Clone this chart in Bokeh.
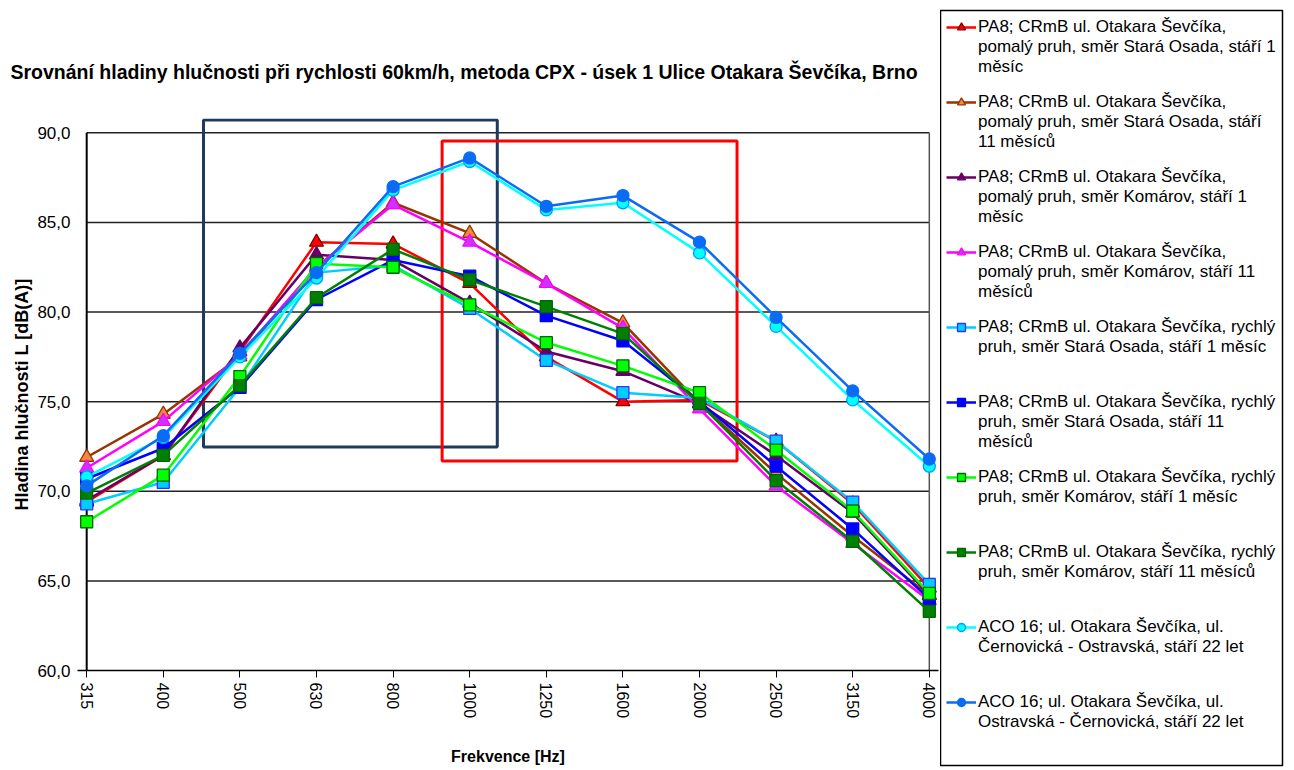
from bokeh.plotting import figure
from bokeh.layouts import row
from bokeh.models import Range1d, FixedTicker, Legend, LegendItem
from bokeh.embed import file_html
from bokeh.resources import INLINE

# ---------------- data ----------------
freqs = ["315", "400", "500", "630", "800", "1000", "1250", "1600", "2000", "2500", "3150", "4000"]

pa8_pomaly_stara_1m = [69.4, 72.0, 77.8, 83.9, 83.8, 81.6, 77.5, 75.0, 75.1, 72.8, 69.3, 64.6]
pa8_pomaly_stara_11m = [71.9, 74.3, 77.5, 82.5, 86.1, 84.4, 81.6, 79.4, 74.9, 71.0, 67.5, 64.2]
pa8_pomaly_komarov_1m = [69.5, 72.0, 78.0, 83.2, 82.9, 80.5, 77.8, 76.7, 74.9, 72.0, 68.8, 64.2]
pa8_pomaly_komarov_11m = [71.3, 73.9, 77.6, 82.5, 86.0, 83.9, 81.6, 79.1, 74.6, 70.3, 67.1, 63.9]
pa8_rychly_stara_1m = [69.3, 70.5, 75.8, 82.2, 82.6, 80.2, 77.3, 75.5, 75.2, 72.8, 69.4, 64.8]
pa8_rychly_stara_11m = [70.7, 72.4, 75.8, 80.7, 82.9, 82.0, 79.8, 78.4, 75.0, 71.4, 67.9, 64.0]
pa8_rychly_komarov_1m = [68.3, 70.9, 76.4, 82.7, 82.5, 80.4, 78.3, 77.0, 75.5, 72.3, 68.9, 64.3]
pa8_rychly_komarov_11m = [69.9, 72.0, 75.9, 80.8, 83.5, 81.8, 80.3, 78.8, 74.9, 70.6, 67.2, 63.3]
aco_cern_ostr = [70.8, 73.0, 77.5, 81.9, 86.8, 88.4, 85.7, 86.1, 83.3, 79.2, 75.1, 71.4]
aco_ostr_cern = [70.3, 73.1, 77.7, 82.2, 87.0, 88.6, 85.9, 86.5, 83.9, 79.7, 75.6, 71.8]

series_label_lines = [
    ["PA8; CRmB ul. Otakara Ševčíka,", "pomalý pruh, směr Stará Osada, stáří 1", "měsíc"],
    ["PA8; CRmB ul. Otakara Ševčíka,", "pomalý pruh, směr Stará Osada, stáří", "11 měsíců"],
    ["PA8; CRmB ul. Otakara Ševčíka,", "pomalý pruh, směr Komárov, stáří 1", "měsíc"],
    ["PA8; CRmB ul. Otakara Ševčíka,", "pomalý pruh, směr Komárov, stáří 11", "měsíců"],
    ["PA8; CRmB ul. Otakara Ševčíka, rychlý", "pruh, směr Stará Osada, stáří 1 měsíc"],
    ["PA8; CRmB ul. Otakara Ševčíka, rychlý", "pruh, směr Stará Osada, stáří 11", "měsíců"],
    ["PA8; CRmB ul. Otakara Ševčíka, rychlý", "pruh, směr Komárov, stáří 1 měsíc"],
    ["PA8; CRmB ul. Otakara Ševčíka, rychlý", "pruh, směr Komárov, stáří 11 měsíců"],
    ["ACO 16; ul. Otakara Ševčíka, ul.", "Černovická - Ostravská, stáří 22 let"],
    ["ACO 16; ul. Otakara Ševčíka, ul.", "Ostravská - Černovická, stáří 22 let"],
]

y_ticks = [60, 65, 70, 75, 80, 85, 90]
y_tick_labels = ["60,0", "65,0", "70,0", "75,0", "80,0", "85,0", "90,0"]

title_text = "Srovnání hladiny hlučnosti při rychlosti 60km/h, metoda CPX - úsek 1 Ulice Otakara Ševčíka, Brno"
x_title = "Frekvence [Hz]"
y_title = "Hladina hlučnosti L [dB(A)]"

# highlight boxes (in category-index / dB units): left, right, bottom, top
box_navy = [1.525, 5.36, 72.47, 90.72]
box_red = [4.64, 8.49, 71.69, 89.55]

FONT = "Liberation Sans"

# --------------- styles ---------------
styles = [
    dict(line="#ff0000", marker="triangle", fill="#ff0000", edge="#800000", size=14),
    dict(line="#993300", marker="triangle", fill="#f08a3c", edge="#993300", size=14),
    dict(line="#660066", marker="triangle", fill="#660066", edge="#660066", size=14),
    dict(line="#ff00ff", marker="triangle", fill="#cc33ff", edge="#ff00ff", size=14),
    dict(line="#00ccff", marker="square", fill="#00ccff", edge="#3333ff", size=12),
    dict(line="#0000ff", marker="square", fill="#0000ff", edge="#0000ff", size=12),
    dict(line="#00ff00", marker="square", fill="#00ff00", edge="#006600", size=12),
    dict(line="#008000", marker="square", fill="#008000", edge="#006600", size=12),
    dict(line="#00ffff", marker="circle", fill="#00ffff", edge="#0099ff", size=12),
    dict(line="#0a6cf5", marker="circle", fill="#0a6cf5", edge="#0a6cf5", size=12),
]

all_series = [pa8_pomaly_stara_1m, pa8_pomaly_stara_11m, pa8_pomaly_komarov_1m,
              pa8_pomaly_komarov_11m, pa8_rychly_stara_1m, pa8_rychly_stara_11m,
              pa8_rychly_komarov_1m, pa8_rychly_komarov_11m, aco_cern_ostr, aco_ostr_cern]

n = len(freqs)
xs = list(range(n))
pad = 0.12

p = figure(width=940, height=768, output_backend="svg", toolbar_location=None,
           x_range=Range1d(-pad, n - 1 + pad), y_range=Range1d(60, 90.8),
           min_border_left=77, min_border_right=2, min_border_top=118, min_border_bottom=95)
p.frame_align = False

p.background_fill_color = "white"
p.outline_line_color = None
p.xgrid.visible = False
p.ygrid.visible = False

# horizontal gridlines from tick list
grid_ys = y_ticks[1:]
p.segment(x0=[0] * len(grid_ys), x1=[n - 1] * len(grid_ys), y0=grid_ys, y1=grid_ys,
          line_color="#222222", line_width=1.5)
# y axis line and right border
p.segment(x0=[0], x1=[0], y0=[y_ticks[0]], y1=[y_ticks[-1]], line_color="black", line_width=2)
p.segment(x0=[n - 1], x1=[n - 1], y0=[y_ticks[0]], y1=[y_ticks[-1]], line_color="#555555", line_width=1.5)

# highlight boxes
p.quad(left=[box_navy[0]], right=[box_navy[1]], bottom=[box_navy[2]], top=[box_navy[3]],
       fill_color=None, line_color="#1f3a5f", line_width=3)
p.quad(left=[box_red[0]], right=[box_red[1]], bottom=[box_red[2]], top=[box_red[3]],
       fill_color=None, line_color="#ff0000", line_width=3)

for vals, st in zip(all_series, styles):
    p.line(xs, vals, line_color=st["line"], line_width=2.5)
    p.scatter(xs, vals, marker=st["marker"], size=st["size"], fill_color=st["fill"],
              line_color=st["edge"], line_width=1.3)

# axes
p.xaxis.ticker = FixedTicker(ticks=xs)
p.xaxis.major_label_overrides = {i: f for i, f in enumerate(freqs)}
p.xaxis.major_label_orientation = "vertical"
p.xaxis.minor_tick_line_color = None
p.xaxis.major_tick_in = 0
p.xaxis.major_tick_out = 7
p.xaxis.major_tick_line_color = "black"
p.xaxis.axis_line_color = "black"
p.xaxis.axis_line_width = 1.5
p.xaxis.major_label_text_font = FONT
p.xaxis.major_label_text_font_size = "16px"
p.xaxis.major_label_text_color = "black"
p.xaxis.major_label_standoff = 5
p.xaxis.axis_label = x_title
p.xaxis.axis_label_text_font = FONT
p.xaxis.axis_label_text_font_style = "bold"
p.xaxis.axis_label_text_font_size = "16px"
p.xaxis.axis_label_text_color = "black"
p.xaxis.axis_label_standoff = 27

p.yaxis.ticker = FixedTicker(ticks=y_ticks)
p.yaxis.major_label_overrides = {t: l for t, l in zip(y_ticks, y_tick_labels)}
p.yaxis.minor_tick_line_color = None
p.yaxis.major_tick_in = 0
p.yaxis.major_tick_out = 0
p.yaxis.axis_line_color = None
p.yaxis.major_label_text_font = FONT
p.yaxis.major_label_text_font_size = "17px"
p.yaxis.major_label_text_color = "black"
p.yaxis.major_label_standoff = 7
p.yaxis.axis_label = y_title
p.yaxis.axis_label_text_font = FONT
p.yaxis.axis_label_text_font_style = "bold"
p.yaxis.axis_label_text_font_size = "18px"
p.yaxis.axis_label_text_color = "black"
p.yaxis.axis_label_standoff = 2

# title
p.title.text = title_text
p.title.text_font = FONT
p.title.text_font_size = "19.5px"
p.title.text_font_style = "bold"
p.title.text_color = "black"
p.title.align = "left"
p.title.offset = -67
p.title.standoff = 72

# ------------- legend panel -------------
LP_W, LP_H = 350, 768
LP_TOP, LP_BOTTOM, LP_RIGHT = 10, 3, 8
lp = figure(width=LP_W, height=LP_H, output_backend="svg", toolbar_location=None,
            title_location=None,
            x_range=Range1d(-100, -99), y_range=Range1d(-100, -99),
            x_axis_location=None, y_axis_location=None,
            min_border_left=0, min_border_right=LP_RIGHT,
            min_border_top=LP_TOP, min_border_bottom=LP_BOTTOM)
lp.frame_align = False
lp.grid.visible = False
lp.outline_line_color = "black"
lp.outline_line_width = 1.5

frame_h = LP_H - LP_TOP - LP_BOTTOM
item_box = 120          # fixed legend-item box height
first_center = 17       # first entry centre, px below legend frame top
step = 75               # distance between entries

for i, (vals, st, lines) in enumerate(zip(all_series, styles, series_label_lines)):
    # blank lines above the text so that the glyph sits beside the first text line
    label = "\n" * (len(lines) - 1) + "\n".join(lines)
    r1 = lp.line(xs, vals, line_color=st["line"], line_width=2.5)
    r2 = lp.scatter(xs, vals, marker=st["marker"], size=st["size"] - 2, fill_color=st["fill"],
                    line_color=st["edge"], line_width=1.3)
    center_from_bottom = frame_h - (first_center + i * step)
    lg = Legend(items=[LegendItem(label=label, renderers=[r1, r2])],
                location=(6, center_from_bottom - item_box // 2),
                padding=0, margin=0, spacing=0,
                glyph_width=30, glyph_height=20, label_standoff=2, label_height=item_box,
                label_text_font=FONT, label_text_font_size="17px", label_text_line_height=1.48,
                label_text_color="black",
                border_line_color=None, background_fill_alpha=0.0)
    lp.add_layout(lg, "center")

layout = row(p, lp)
open("out.html", "w").write(file_html(layout, INLINE))
